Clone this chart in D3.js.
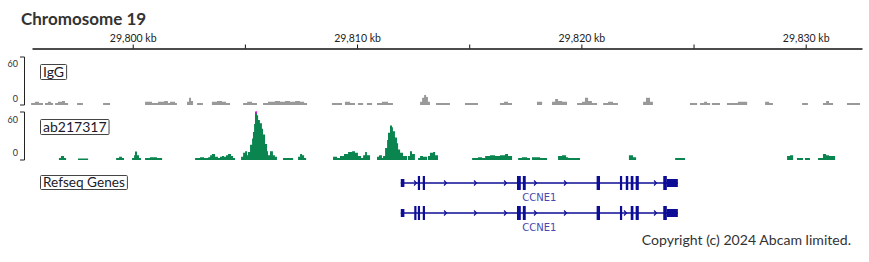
<!DOCTYPE html>
<html><head><meta charset="utf-8">
<script src="https://cdn.jsdelivr.net/npm/d3@7"></script>
<style>body{margin:0;background:#fff;} svg{display:block;font-family:Lato,"Noto Sans",sans-serif;}</style>
</head><body><svg id="c" width="869" height="262"></svg>
<script>
// ---------- data ----------
const chromosome = "Chromosome 19";
const viewKb = [29795.51, 29832.51];
const majorTicks = [29800, 29810, 29820, 29830];
const minorTicks = [29805, 29815, 29825];
const yMax = 60;
const trackNames = ["IgG", "ab217317", "Refseq Genes"];

// IgG coverage (step starts in kb, value holds until next start)
const igPos = [29795.47,29795.64,29795.82,29796.00,29796.09,29796.22,29796.36,29796.45,29796.54,29796.67,29796.85,29796.98,29797.12,
29797.52,29797.78,29798.68,29798.99,29800.55,29800.86,29801.13,29801.40,29801.57,29801.66,29801.89,29801.97,29802.42,29802.51,29802.60,29802.69,
29802.87,29803.13,29803.53,29803.76,29803.98,29804.16,29804.34,29804.92,29805.10,29805.32,29805.54,29805.81,29806.03,29806.34,29806.57,29806.79,
29807.01,29807.24,29807.46,29807.64,29807.77,29808.88,29809.33,29809.46,29809.69,29809.91,29810.04,29810.27,29810.44,29810.67,29810.89,29811.11,
29811.38,29811.60,29812.81,29812.90,29812.99,29813.08,29813.16,29813.25,29813.52,29814.14,29814.81,29815.39,29816.37,29816.55,29816.73,29816.91,
29818.02,29818.25,29818.69,29818.83,29818.96,29819.14,29819.36,29819.81,29820.03,29820.16,29820.30,29820.47,29820.70,29820.97,29821.19,29821.41,
29821.63,29822.75,29822.88,29823.06,29823.19,29824.84,29825.16,29825.29,29825.47,29825.60,29825.74,29825.82,29826.18,29826.49,29826.98,29827.39,
29828.19,29828.37,29828.54,29829.84,29830.10,29830.77,29830.91,29831.04,29831.22,29831.84,29832.42];
const igVal = [2.5,4,2.5,0,2.5,4,2.5,0,2.5,4,5,2.5,0,
2.5,0,2.5,0,4,2.5,4,5,2.5,4,2.5,0,4,9,5,0,
2.5,0,4,5,4,2.5,0,2.5,4,2.5,0,2.5,4,5,4,5,
4,5,4,2.5,0,2.5,0,4,2.5,0,2.5,0,2.5,0,2.5,4,
2.5,0,4,9,12.5,10,4,0,2.5,0,2.5,0,2.5,4,2.5,0,
4,0,4,7.5,5,4,0,2.5,4,9,5,2.5,0,2.5,4,2.5,
0,4,9,4,0,2.5,0,2.5,4,2.5,0,2.5,0,2.5,4,0,
4,2.5,0,2.5,0,2.5,5,2.5,0,2.5,0];

// ab217317 coverage
const abPos = [29796.71,29796.80,29796.94,29797.03,29797.56,29798.01,29799.26,29799.39,29799.52,29799.61,29799.97,29800.06,29800.10,29800.19,
29800.28,29800.37,29800.55,29800.77,29801.08,29801.31,29802.78,29803.00,29803.18,29803.36,29803.45,29803.53,29803.67,29803.80,29803.89,29803.98,
29804.07,29804.16,29804.25,29804.38,29804.47,29804.56,29804.83,29804.92,29805.01,29805.10,29805.14,29805.23,29805.32,29805.36,29805.41,29805.45,
29805.54,29805.59,29805.67,29805.76,29805.81,29805.90,29805.99,29806.03,29806.12,29806.25,29806.34,29806.43,29806.70,29807.15,29807.37,29807.46,
29807.55,29807.64,29807.73,29808.93,29809.11,29809.24,29809.42,29809.60,29809.78,29809.91,29810.04,29810.18,29810.27,29810.36,29810.44,29810.58,
29810.89,29810.98,29811.11,29811.16,29811.25,29811.34,29811.38,29811.47,29811.56,29811.60,29811.69,29811.78,29811.83,29811.92,29812.05,29812.23,
29812.27,29812.36,29812.45,29812.58,29812.72,29812.81,29812.94,29813.12,29813.16,29813.25,29813.39,29813.48,29813.61,29815.13,29815.39,29815.57,
29815.71,29815.93,29816.15,29816.37,29816.60,29816.73,29816.91,29817.18,29817.35,29817.58,29817.71,29817.80,29818.16,29818.47,29818.96,29819.14,
29819.32,29819.41,29819.94,29822.12,29822.30,29822.44,29824.18,29824.62,29829.17,29829.30,29829.44,29829.61,29829.88,29829.97,29830.19,29830.55,
29830.77,29830.91,29831.04,29831.31];
const abVal = [2.5,5,2.5,0,2,0,2.5,4,2.5,0,2.5,6,10.5,6,
2.5,0,2.5,3.5,2.5,0,2.5,3.5,2.5,3.5,6,7.5,4,2.5,4,5,
4,6,7.5,5,2.5,0,4,9,11,6,10,19,27,35,45,66,
56,50,46,39,32,20,11,6,11,6,4,0,2.5,0,4,7.5,
6,2.5,0,4,2.5,5,7.5,10,11,9,5,2.5,6,10,6,0,
4,6,2.5,5,15,25,34,43,41,36,28,21,13,9,5,0,
5,11,7.5,0,2.5,5,4,0,5,9,10,6,0,2.5,3.5,2.5,
5,6,5,6,7.5,5,0,2.5,3.5,2.5,0,3.5,2.5,0,5,6,
3.5,2.5,0,6,3.5,0,2.5,0,5,6,0,2.5,0,2.5,0,2.5,
7.5,6,5,0];

// Refseq CCNE1 transcripts (kb); type: 1 = coding, 0 = UTR
const geneName = "CCNE1";
const tx1Start = [29811.95,29812.71,29812.93,29817.13,29817.39,29820.68,29821.72,29821.98,29822.20,29822.42,29823.65,29823.81];
const tx1End   = [29812.11,29812.78,29813.02,29817.30,29817.52,29820.83,29821.80,29822.09,29822.32,29822.56,29823.81,29824.30];
const tx1Type  = [0,1,1,1,1,1,1,1,1,1,1,0];
const tx2Start = [29811.95,29812.55,29812.71,29812.93,29817.13,29817.39,29820.68,29821.72,29822.20,29822.42,29823.65,29823.81];
const tx2End   = [29812.11,29812.62,29812.78,29813.02,29817.30,29817.52,29820.83,29821.80,29822.32,29822.56,29823.81,29824.30];
const tx2Type  = [0,1,1,1,1,1,1,1,1,1,1,0];
const copyright = "Copyright (c) 2024 Abcam limited.";

// ---------- drawing ----------
const svg = d3.select("#c");
const x = d3.scaleLinear().domain(viewKb).range([32, 862]);
const txtCol = "#333";

svg.append("text").attr("x", 21).attr("y", 25).attr("font-size", 17).attr("font-weight", "bold")
  .attr("fill", txtCol).text(chromosome);

const axis = d3.axisTop(x).tickValues(majorTicks.concat(minorTicks)).tickSize(4).tickSizeOuter(0).tickPadding(3)
  .tickFormat(d => majorTicks.includes(d) ? d3.format(",")(d) + " kb" : "");
const ag = svg.append("g").attr("transform", "translate(0,48.5)").call(axis);
ag.select(".domain").attr("stroke", "#111").attr("stroke-width", 1.3);
ag.selectAll(".tick line").attr("stroke", "#111");
ag.selectAll(".tick text").attr("font-size", 10.5).attr("fill", "#222").attr("font-family", "Lato,sans-serif");

function coverage(pos, val, top, bottom, color, name, labYTop, labYBot) {
  const y = d3.scaleLinear().domain([0, yMax]).range([bottom, top]);
  const pts = pos.map((p, i) => ({p, v: val[i]}));
  svg.append("path").datum(pts)
    .attr("d", d3.area().curve(d3.curveStepAfter).x(d => x(d.p)).y0(y(0)).y1(d => y(Math.min(d.v, yMax))))
    .attr("fill", color);
  pts.forEach((d, i) => {
    if (d.v > yMax && i + 1 < pts.length) {
      svg.append("rect").attr("x", x(d.p) + 0.5).attr("y", y(yMax) - 1).attr("width", 1.2).attr("height", 3).attr("fill", "#ff00ff");
    }
  });
  // range bracket
  svg.append("path").attr("d", `M20,${y(yMax)}H24.5V${y(0)}H20`).attr("fill", "none").attr("stroke", "#222").attr("stroke-width", 1);
  svg.append("text").attr("x", 18).attr("y", labYTop).attr("text-anchor", "end").attr("dominant-baseline", "middle")
    .attr("font-size", 9).attr("fill", txtCol).text(yMax);
  svg.append("text").attr("x", 18).attr("y", labYBot).attr("text-anchor", "end").attr("dominant-baseline", "middle")
    .attr("font-size", 9).attr("fill", txtCol).text(0);
}
coverage(igPos, igVal, 57, 105, "#999999", trackNames[0], 64.5, 99.5);
coverage(abPos, abVal, 112, 160, "#0a8550", trackNames[1], 120.5, 154);

function nameBox(label, bx, by, fs) {
  const g = svg.append("g");
  const t = g.append("text").attr("x", bx + 3).attr("y", by).attr("font-size", fs).attr("fill", "#1a1a2a").text(label);
  const b = t.node().getBBox();
  g.insert("rect", "text").attr("x", bx + 0.5).attr("y", b.y + 1.5).attr("width", b.width + 5).attr("height", b.height - 2)
    .attr("fill", "#fff").attr("stroke", "#444").attr("stroke-width", 1).attr("rx", 1);
}
nameBox(trackNames[0], 40, 77, 14);
nameBox(trackNames[1], 40, 132, 14);
nameBox(trackNames[2], 40, 187, 13.6);

const navy = "#0c0c96";
function transcript(starts, ends, types, cy, labY) {
  const g = svg.append("g");
  const x0 = x(starts[0]), x1 = x(ends[ends.length - 1]);
  g.append("line").attr("x1", x0).attr("x2", x1).attr("y1", cy).attr("y2", cy).attr("stroke", navy).attr("stroke-width", 1.5);
  // direction chevrons along introns
  for (let px = 25; px < 869; px += 30) {
    if (px < x0 + 3 || px > x1 - 3) continue;
    const inExon = starts.some((s, i) => px > x(s) - 2.5 && px < x(ends[i]) + 2.5);
    if (inExon) continue;
    g.append("path").attr("d", `M${px - 1},${cy - 2.5}L${px + 1.5},${cy}L${px - 1},${cy + 2.5}`)
      .attr("fill", "none").attr("stroke", navy).attr("stroke-width", 1.1);
  }
  starts.forEach((s, i) => {
    const h = types[i] ? 7 : 4;
    const w = Math.max(x(ends[i]) - x(s), 2.2);
    g.append("rect").attr("x", x(s)).attr("y", cy - h).attr("width", w).attr("height", 2 * h).attr("fill", navy);
  });
  g.append("text").attr("x", (x0 + x1) / 2).attr("y", labY).attr("text-anchor", "middle").attr("font-size", 10)
    .attr("fill", "#4848b0").attr("font-family", "'DejaVu Sans',sans-serif").text(geneName);
}
transcript(tx1Start, tx1End, tx1Type, 183, 201);
transcript(tx2Start, tx2End, tx2Type, 213, 231);

svg.append("text").attr("x", 851).attr("y", 245).attr("text-anchor", "end").attr("font-size", 14.1)
  .attr("fill", txtCol).text(copyright);
</script></body></html>
